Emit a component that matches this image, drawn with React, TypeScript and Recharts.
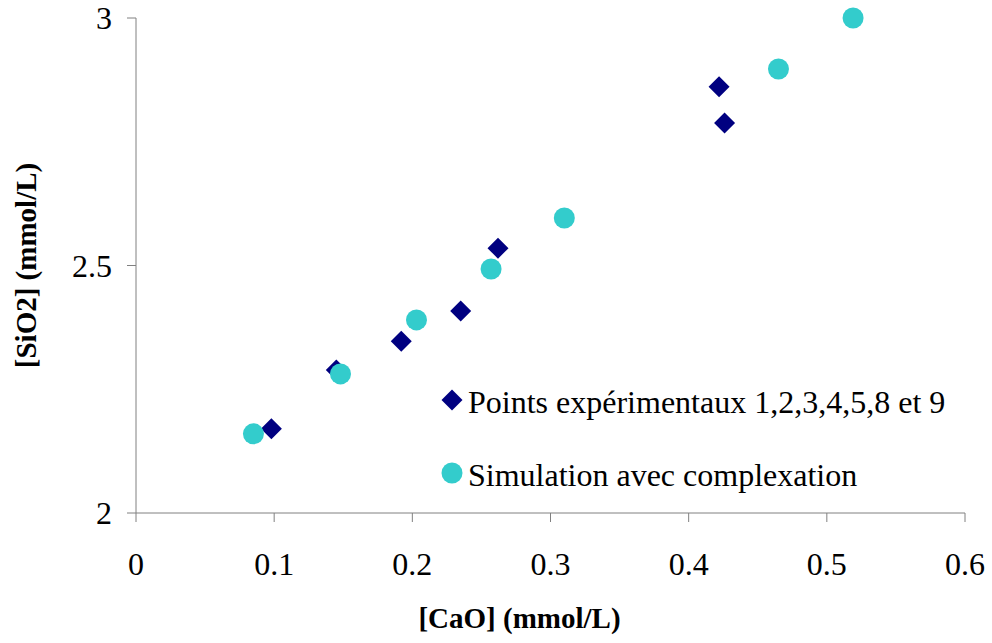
import { ScatterChart, Scatter, XAxis, YAxis, Label } from 'recharts'

const experimentalCaO = [0.098, 0.145, 0.192, 0.235, 0.262, 0.422, 0.426]
const experimentalSiO2 = [2.17, 2.289, 2.347, 2.408, 2.535, 2.861, 2.788]

const simulationCaO = [0.085, 0.148, 0.203, 0.257, 0.31, 0.465, 0.519]
const simulationSiO2 = [2.16, 2.281, 2.39, 2.493, 2.596, 2.897, 3.0]

const xTicks = [0, 0.1, 0.2, 0.3, 0.4, 0.5, 0.6]
const yTicks = [2, 2.5, 3]

const SERIES_NAMES = ['Points expérimentaux 1,2,3,4,5,8 et 9', 'Simulation avec complexation']

const experimental = experimentalCaO.map((x, i) => ({ x, y: experimentalSiO2[i] }))
const simulation = simulationCaO.map((x, i) => ({ x, y: simulationSiO2[i] }))

const FONT = '"Liberation Serif", "Times New Roman", serif'
const NAVY = '#000080'
const TURQUOISE = '#33CCCC'
const AXIS = '#808080'

const Diamond = (props: any) => {
  const { cx, cy } = props
  const r = 10.5
  return <polygon points={`${cx},${cy - r} ${cx + r},${cy} ${cx},${cy + r} ${cx - r},${cy}`} fill={NAVY} />
}

const Dot = (props: any) => {
  const { cx, cy } = props
  return <circle cx={cx} cy={cy} r={10.5} fill={TURQUOISE} />
}

// legend sits inside the plot area, drawn as an overlay
const LegendBox = () => (
  <svg
    width={540}
    height={120}
    style={{ position: 'absolute', left: 440, top: 380, display: 'block', pointerEvents: 'none' }}
  >
    <polygon points="12,9.5 22.5,20 12,30.5 1.5,20" fill={NAVY} />
    <text x={28} y={33} fontSize={32} fontFamily={FONT} fill="#000">{SERIES_NAMES[0]}</text>
    <circle cx={12} cy={93} r={10.5} fill={TURQUOISE} />
    <text x={28} y={106} fontSize={32} fontFamily={FONT} fill="#000">{SERIES_NAMES[1]}</text>
  </svg>
)

const tickStyle = { fontSize: 32, fontFamily: FONT, fill: '#000' }

export default function App() {
  return (
    <div style={{ position: 'absolute', left: 0, top: 0, width: 992, height: 643, background: '#fff' }}>
      <ScatterChart width={992} height={643} margin={{ top: 18, right: 27, left: 0, bottom: 0 }}>
        <XAxis
          type="number"
          dataKey="x"
          domain={[0, 0.6]}
          ticks={xTicks}
          interval={0}
          height={130}
          tickSize={9}
          tickMargin={30}
          tick={tickStyle}
          stroke={AXIS}
          tickFormatter={(v: number) => String(v)}
        >
          <Label
            content={({ viewBox }: any) => (
              <text
                x={viewBox.x + viewBox.width / 2 - 31}
                y={viewBox.y + 115}
                textAnchor="middle"
                fontSize={29}
                fontWeight="bold"
                fontFamily={FONT}
                fill="#000"
              >
                [CaO] (mmol/L)
              </text>
            )}
          />
        </XAxis>
        <YAxis
          type="number"
          dataKey="y"
          domain={[2, 3]}
          ticks={yTicks}
          interval={0}
          width={136}
          tickSize={9}
          tickMargin={15}
          tick={tickStyle}
          stroke={AXIS}
          tickFormatter={(v: number) => String(v)}
        >
          <Label
            content={({ viewBox }: any) => {
              const cx = 36
              const cy = viewBox.y + viewBox.height / 2
              return (
                <text
                  x={cx}
                  y={cy}
                  transform={`rotate(-90 ${cx} ${cy})`}
                  textAnchor="middle"
                  fontSize={29}
                  fontWeight="bold"
                  fontFamily={FONT}
                  fill="#000"
                >
                  [SiO2] (mmol/L)
                </text>
              )
            }}
          />
        </YAxis>
        <Scatter name={SERIES_NAMES[0]} data={experimental} shape={<Diamond />} isAnimationActive={false} />
        <Scatter name={SERIES_NAMES[1]} data={simulation} shape={<Dot />} isAnimationActive={false} />
      </ScatterChart>
      <LegendBox />
    </div>
  )
}
